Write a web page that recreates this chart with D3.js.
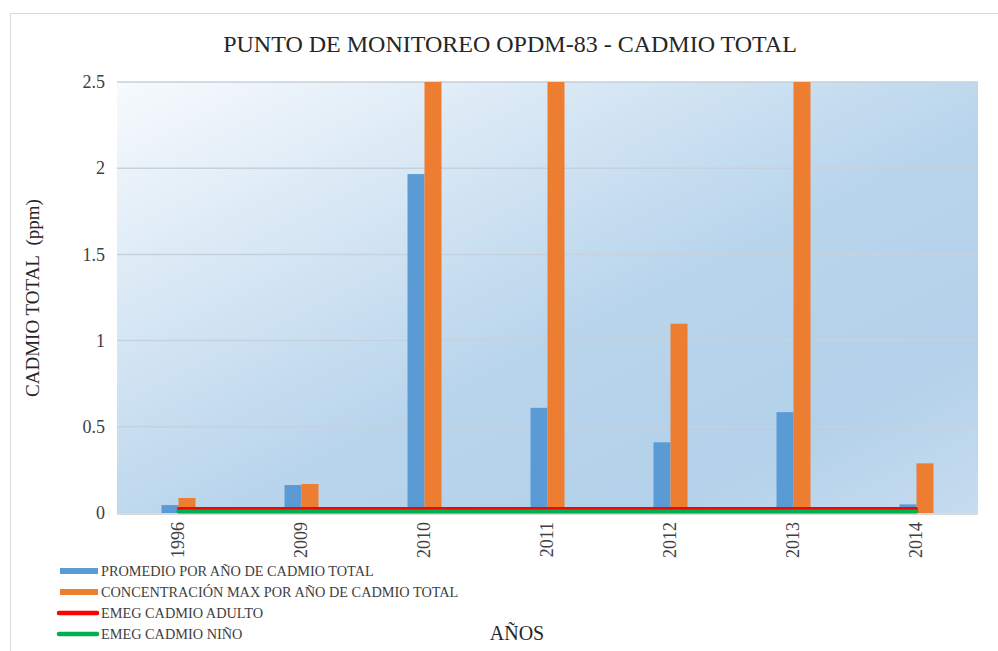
<!DOCTYPE html>
<html><head><meta charset="utf-8">
<script src="https://cdn.jsdelivr.net/npm/d3@7"></script>
<style>body{margin:0;background:#fff;}svg{display:block;font-family:"Liberation Serif","Times New Roman",serif;}</style>
</head><body>
<svg id="c" width="998" height="651"></svg>
<script>
const categories = ["1996","2009","2010","2011","2012","2013","2014"];
const promedio = [0.046, 0.162, 1.966, 0.61, 0.41, 0.585, 0.05];
const maximo = [0.087, 0.168, 2.5, 2.5, 1.098, 2.5, 0.288];
const emegAdulto = [0.026, 0.026, 0.026, 0.026, 0.026, 0.026, 0.026];
const emegNino = [0.009, 0.009, 0.009, 0.009, 0.009, 0.009, 0.009];
const yTicks = [0, 0.5, 1, 1.5, 2, 2.5];
const seriesNames = ["PROMEDIO POR AÑO DE CADMIO TOTAL","CONCENTRACIÓN MAX POR AÑO DE CADMIO TOTAL","EMEG CADMIO ADULTO","EMEG CADMIO NIÑO"];

const svg = d3.select("#c");
const m = {l:117, r:978, t:82, b:513};
const defs = svg.append("defs");
const g = defs.append("linearGradient").attr("id","bg").attr("x1","0").attr("y1","0").attr("x2","1").attr("y2","1");
g.append("stop").attr("offset","0").attr("stop-color","#f7fafd");
g.append("stop").attr("offset","0.55").attr("stop-color","#b9d5ec");
g.append("stop").attr("offset","0.8").attr("stop-color","#b3d1ea");
g.append("stop").attr("offset","1").attr("stop-color","#c6dcef");

svg.append("rect").attr("x",10.5).attr("y",13.5).attr("width",1000).attr("height",700).attr("fill","#fff").attr("stroke","#d9d9d9");

svg.append("rect").attr("x",m.l).attr("y",m.t).attr("width",m.r-m.l).attr("height",m.b-m.t).attr("fill","url(#bg)");

const x = d3.scaleBand().domain(categories).range([m.l,m.r]);
const y = d3.scaleLinear().domain([0,2.5]).range([m.b,m.t]);

svg.append("g").selectAll("line").data(yTicks.slice(1)).join("line")
  .attr("x1",m.l).attr("x2",m.r).attr("y1",d=>y(d)).attr("y2",d=>y(d))
  .attr("stroke","#c5d1dc").attr("stroke-width",1.5);
svg.append("line").attr("x1",m.l).attr("x2",m.r).attr("y1",m.b+1).attr("y2",m.b+1).attr("stroke","#d9d9d9").attr("stroke-width",2);

const bw = 17;
svg.append("g").selectAll("rect").data(categories).join("rect")
  .attr("x",d=>x(d)+x.bandwidth()/2-bw).attr("width",bw)
  .attr("y",(d,i)=>y(promedio[i])).attr("height",(d,i)=>y(0)-y(promedio[i]))
  .attr("fill","#5b9bd5");
svg.append("g").selectAll("rect").data(categories).join("rect")
  .attr("x",d=>x(d)+x.bandwidth()/2).attr("width",bw)
  .attr("y",(d,i)=>y(maximo[i])).attr("height",(d,i)=>y(0)-y(maximo[i]))
  .attr("fill","#ed7d31");

const line = d3.line().x((d,i)=>x(categories[i])+x.bandwidth()/2).y(d=>y(d));
svg.append("path").datum(emegAdulto).attr("d",line).attr("fill","none").attr("stroke","#ff0000").attr("stroke-width",3).attr("stroke-linecap","round");
svg.append("path").datum(emegNino).attr("d",line).attr("fill","none").attr("stroke","#00b050").attr("stroke-width",4).attr("stroke-linecap","round");

const yAxis = d3.axisLeft(y).tickValues(yTicks).tickSize(0).tickPadding(0).tickFormat(d3.format("~g"));
const ya = svg.append("g").attr("transform",`translate(${m.l-12},0)`).call(yAxis);
ya.select(".domain").remove();
ya.selectAll("text").attr("font-family","Liberation Serif, serif").attr("font-size",18).attr("fill","#404040").attr("dy","0.32em");

const xAxis = d3.axisBottom(x).tickSize(0).tickPadding(0);
const xa = svg.append("g").attr("transform",`translate(0,${m.b})`).call(xAxis);
xa.select(".domain").remove();
xa.selectAll("text").attr("font-family","Liberation Serif, serif").attr("font-size",18).attr("fill","#404040")
  .attr("transform","rotate(-90)").attr("text-anchor","end").attr("x",-9).attr("y",0).attr("dy","0.32em");

svg.append("text").attr("x",510).attr("y",52).attr("text-anchor","middle").attr("font-size",24).attr("fill","#262626").text("PUNTO DE MONITOREO OPDM-83 - CADMIO TOTAL");
svg.append("text").attr("transform","translate(39,298) rotate(-90)").attr("text-anchor","middle").attr("font-size",19).attr("fill","#262626").text("CADMIO TOTAL\u00A0 (ppm)");
svg.append("text").attr("x",517).attr("y",640).attr("text-anchor","middle").attr("font-size",20).attr("fill","#262626").text("AÑOS");

const legColors = ["#5b9bd5","#ed7d31","#ff0000","#00b050"];
const lg = svg.append("g");
seriesNames.forEach((n,i)=>{
  const yy = 571 + i*21;
  if(i<2){
    lg.append("rect").attr("x",60).attr("y",yy-3).attr("width",38).attr("height",6).attr("fill",legColors[i]);
  } else {
    lg.append("line").attr("x1",59).attr("x2",97).attr("y1",yy).attr("y2",yy).attr("stroke",legColors[i]).attr("stroke-width",4.5).attr("stroke-linecap","round");
  }
  lg.append("text").attr("x",101).attr("y",yy).attr("dy","0.35em").attr("font-size",14.3).attr("fill","#404040").text(n);
});
</script>
</body></html>
